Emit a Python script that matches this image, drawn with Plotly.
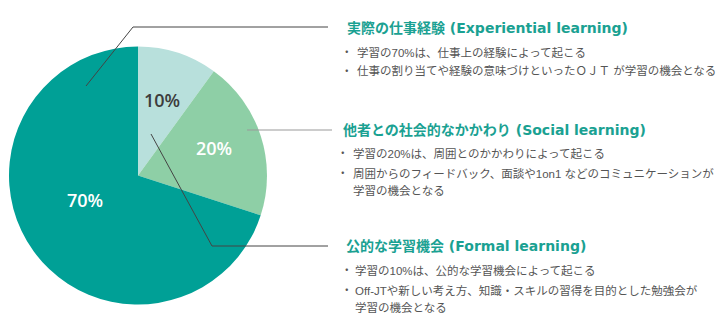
import plotly.graph_objects as go

W, H = 728, 330

# Data
categories = ["公的な学習機会", "他者との社会的なかかわり", "実際の仕事経験"]
values = [10, 20, 70]
colors = ["#b8e0dc", "#8ecfa6", "#00a096"]
label_colors = ["#3c3c3c", "#ffffff", "#ffffff"]

titles = [
    "実際の仕事経験 (Experiential learning)",
    "他者との社会的なかかわり (Social learning)",
    "公的な学習機会 (Formal learning)",
]
bullets = [
    [["学習の70%は、仕事上の経験によって起こる"],
     ["仕事の割り当てや経験の意味づけといったＯＪＴ が学習の機会となる"]],
    [["学習の20%は、周囲とのかかわりによって起こる"],
     ["周囲からのフィードバック、面談や1on1 などのコミュニケーションが", "学習の機会となる"]],
    [["学習の10%は、公的な学習機会によって起こる"],
     ["Off-JTや新しい考え方、知識・スキルの習得を目的とした勉強会が", "学習の機会となる"]],
]


def px(x):
    return x / W


def py(y):
    return 1 - y / H


cx, cy, r = 138, 175.5, 129

fig = go.Figure(go.Pie(
    labels=categories,
    values=values,
    sort=False,
    direction="clockwise",
    rotation=0,
    marker=dict(colors=colors, line=dict(width=0)),
    textinfo="none",
    hoverinfo="label+percent",
    showlegend=False,
    domain=dict(x=[px(cx - r), px(cx + r)], y=[py(cy + r), py(cy - r)]),
))

annotations = []
# percentage labels
label_pos = [(162, 100), (214, 148), (85, 200)]
for v, (lx, ly), c in zip(values, label_pos, label_colors):
    annotations.append(dict(
        x=px(lx), y=py(ly), xref="paper", yref="paper",
        text=f"{v}%", showarrow=False, xanchor="center", yanchor="middle",
        font=dict(family="Open Sans, Noto Sans", size=18, color=c, weight=600),
    ))

title_fam = "DejaVu Sans, Noto Sans CJK JP"
fam = "Liberation Sans, Noto Sans CJK JP"
title_pos = [(345, 27), (341, 129), (344, 245)]
bullet_rows = [
    (346.5, 355, [52, 71]),
    (343, 351, [153, 173, 191]),
    (346.5, 353, [270, 290, 307]),
]
for i, title in enumerate(titles):
    tx, ty = title_pos[i]
    cjk, latin = title.split(" ", 1)
    annotations.append(dict(
        x=px(tx), y=py(ty), xref="paper", yref="paper",
        text=f"<span style='font-family:Noto Sans CJK JP'>{cjk}</span> {latin}",
        showarrow=False, xanchor="left", yanchor="middle",
        font=dict(family=title_fam, size=14, color="#1aa192", weight="bold"),
    ))
    dot_x, text_x, ys = bullet_rows[i]
    k = 0
    for b in bullets[i]:
        annotations.append(dict(
            x=px(dot_x), y=py(ys[k]), xref="paper", yref="paper", text="・",
            showarrow=False, xanchor="center", yanchor="middle",
            font=dict(family=fam, size=11.5, color="#555555"),
        ))
        for line in b:
            annotations.append(dict(
                x=px(text_x), y=py(ys[k]), xref="paper", yref="paper", text=line,
                showarrow=False, xanchor="left", yanchor="middle",
                font=dict(family=fam, size=11.5, color="#555555"),
            ))
            k += 1

shapes = []


def seg(x0, y0, x1, y1, color):
    shapes.append(dict(type="line", xref="paper", yref="paper",
                       x0=px(x0), y0=py(y0), x1=px(x1), y1=py(y1),
                       line=dict(color=color, width=1)))


seg(86, 86, 133, 27, "#444444")
seg(133, 27, 328, 27, "#444444")
seg(247, 130, 332, 130, "#999999")
seg(151, 134, 212, 246, "#444444")
seg(212, 246, 328, 246, "#444444")

fig.update_layout(
    width=W, height=H,
    margin=dict(l=0, r=0, t=0, b=0),
    paper_bgcolor="white", plot_bgcolor="white",
    annotations=annotations, shapes=shapes,
)

fig.write_html("out.html")
